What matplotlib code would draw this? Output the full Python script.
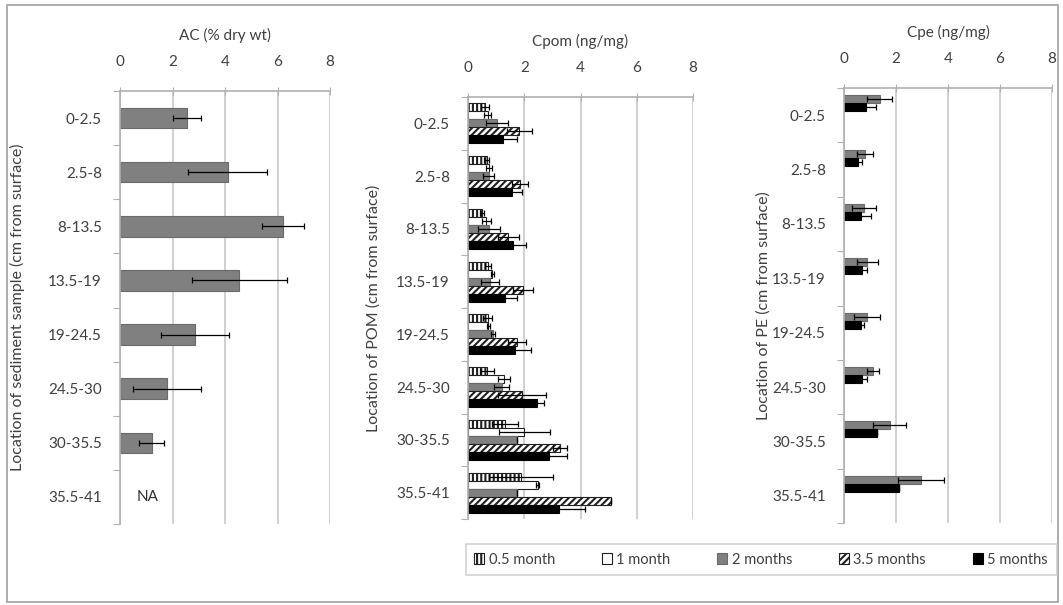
import numpy as np
import matplotlib
matplotlib.use("Agg")
import matplotlib.pyplot as plt
from matplotlib.patches import Patch, Rectangle

plt.rcParams['font.family'] = ['Lato', 'DejaVu Sans']
plt.rcParams['font.size'] = 11
plt.rcParams['text.color'] = '#404040'
plt.rcParams['hatch.linewidth'] = 1.5

# depth intervals (cm from surface)
depths = ['0-2.5', '2.5-8', '8-13.5', '13.5-19', '19-24.5', '24.5-30', '30-35.5', '35.5-41']

# AC (% dry wt); last interval not analysed
ac = [2.55, 4.1, 6.2, 4.55, 2.85, 1.8, 1.2, np.nan]
ac_err = [0.55, 1.5, 0.8, 1.8, 1.3, 1.3, 0.48, np.nan]

# Cpom (ng/mg) by exposure time
pom_05 = [0.6, 0.66, 0.5, 0.7, 0.7, 0.68, 1.32, 1.88]
pom_05_err = [0.15, 0.1, 0.08, 0.1, 0.15, 0.26, 0.47, 1.13]
pom_1 = [0.7, 0.75, 0.65, 0.86, 0.72, 1.28, 2.0, 2.48]
pom_1_err = [0.12, 0.1, 0.15, 0.05, 0.05, 0.22, 0.9, 0.05]
pom_2 = [1.03, 0.73, 0.75, 0.78, 0.89, 1.2, 1.74, 1.74]
pom_2_err = [0.38, 0.2, 0.4, 0.33, 0.08, 0.27, 0.0, 0.0]
pom_35 = [1.82, 1.85, 1.43, 1.95, 1.74, 1.92, 3.27, 5.09]
pom_35_err = [0.45, 0.27, 0.37, 0.36, 0.32, 0.87, 0.26, 0.0]
pom_5 = [1.25, 1.57, 1.6, 1.32, 1.67, 2.45, 2.88, 3.24]
pom_5_err = [0.5, 0.35, 0.45, 0.42, 0.56, 0.24, 0.64, 0.93]

# Cpe (ng/mg), only 2 and 5 months
pe_2 = [1.37, 0.8, 0.77, 0.9, 0.9, 1.12, 1.76, 2.97]
pe_2_err = [0.47, 0.3, 0.46, 0.39, 0.5, 0.22, 0.64, 0.89]
pe_5 = [0.86, 0.55, 0.66, 0.7, 0.66, 0.7, 1.28, 2.12]
pe_5_err = [0.37, 0.15, 0.36, 0.19, 0.1, 0.19, 0.0, 0.0]

series_names = ['0.5 month', '1 month', '2 months', '3.5 months', '5 months']
styles = {
    '0.5 month': dict(facecolor='white', edgecolor='#202020', hatch='||||'),
    '1 month': dict(facecolor='white', edgecolor='#202020', hatch=None),
    '2 months': dict(facecolor='#808080', edgecolor='#6a6a6a', hatch=None),
    '3.5 months': dict(facecolor='white', edgecolor='#202020', hatch='/////'),
    '5 months': dict(facecolor='black', edgecolor='black', hatch=None),
}

W, H = 1063, 605
fig = plt.figure(figsize=(W / 100, H / 100), dpi=100)
fig.patch.set_facecolor('white')

# outer frame
fig.patches.append(Rectangle((7 / W, 1 - 602 / H), (1058 - 7) / W, (602 - 5) / H,
                             transform=fig.transFigure, fill=False,
                             edgecolor='#a0a0a0', linewidth=1.2))


def px_axes(x0, y0, x1, y1):
    return fig.add_axes([x0 / W, 1 - y1 / H, (x1 - x0) / W, (y1 - y0) / H])


def style_axes(ax, title, ylabel=None):
    y = np.arange(len(depths))
    ax.set_xlim(0, 8)
    ax.set_ylim(len(depths) - 0.5, -0.5)
    ax.set_xticks([0, 2, 4, 6, 8])
    ax.xaxis.tick_top()
    ax.set_yticks(np.arange(len(depths) + 1) - 0.5, minor=False)
    ax.set_yticklabels([])
    ax.set_yticks(y, minor=True)
    ax.set_yticklabels(depths, minor=True)
    ax.tick_params(axis='y', which='major', length=5, color='#b0b0b0', direction='out')
    ax.tick_params(axis='y', which='minor', length=0, pad=13, labelsize=11, labelcolor='#404040')
    ax.tick_params(axis='x', length=6, direction='inout', color='#b0b0b0', pad=13,
                   labelsize=11, labelcolor='#404040')
    ax.grid(axis='x', color='#c8c8c8', linewidth=1.2)
    ax.set_axisbelow(True)
    for s in ['right', 'bottom']:
        ax.spines[s].set_visible(False)
    for s in ['left', 'top']:
        ax.spines[s].set_color('#b0b0b0')
        ax.spines[s].set_linewidth(1.2)
    ax.set_title(title, fontsize=11, color='#404040', pad=37)
    if ylabel:
        ax.set_ylabel(ylabel, fontsize=11.5, color='#404040')


err_kw = dict(ecolor='black', elinewidth=0.9, capsize=2.5, capthick=0.9)

# AC panel
ax1 = px_axes(120, 91, 330, 524)
y = np.arange(len(depths))
ax1.barh(y, ac, height=0.38, color='#808080', edgecolor='#6a6a6a', linewidth=0.8,
         xerr=ac_err, error_kw=err_kw)
ax1.text(1.05, 7, 'NA', ha='center', va='center', fontsize=11, color='#303030')
style_axes(ax1, 'AC (% dry wt)', 'Location of sediment sample (cm from surface)')
ax1.yaxis.set_label_coords(-0.45, 0.5)

# Cpom panel
ax2 = px_axes(468, 97, 693, 519)
pom_vals = [pom_05, pom_1, pom_2, pom_35, pom_5]
pom_errs = [pom_05_err, pom_1_err, pom_2_err, pom_35_err, pom_5_err]
h = 0.152
for i, (name, vals, errs) in enumerate(zip(series_names, pom_vals, pom_errs)):
    st = styles[name]
    ax2.barh(y + (i - 2) * h, vals, height=h, facecolor=st['facecolor'],
             edgecolor=st['edgecolor'], hatch=st['hatch'], linewidth=0.8,
             xerr=errs, error_kw=err_kw)
style_axes(ax2, 'Cpom (ng/mg)', 'Location of POM (cm from surface)')
ax2.yaxis.set_label_coords(-0.39, 0.5)

# Cpe panel
ax3 = px_axes(844, 88, 1052, 523)
h3 = 0.147
for i, (name, vals, errs) in enumerate([('2 months', pe_2, pe_2_err), ('5 months', pe_5, pe_5_err)]):
    st = styles[name]
    ax3.barh(y + (i - 2) * h3, vals, height=h3, facecolor=st['facecolor'],
             edgecolor=st['edgecolor'], linewidth=0.8, xerr=errs, error_kw=err_kw)
style_axes(ax3, 'Cpe (ng/mg)', 'Location of PE (cm from surface)')
ax3.yaxis.set_label_coords(-0.35, 0.5)

handles = [Patch(facecolor=styles[n]['facecolor'], edgecolor=styles[n]['edgecolor'],
                 hatch=styles[n]['hatch'], linewidth=0.8) for n in series_names]
leg = fig.legend(handles, series_names, loc='center',
                 bbox_to_anchor=(0.716, 1 - 559.5 / H), ncol=5, frameon=True,
                 fancybox=False, edgecolor='#c8c8c8', fontsize=10.5,
                 handlelength=0.7, handleheight=0.7, handletextpad=0.3,
                 columnspacing=3.2, borderpad=0.6, borderaxespad=0)
leg.get_frame().set_linewidth(1.2)
for t in leg.get_texts():
    t.set_color('#404040')

fig.savefig('out.png', dpi=100)
